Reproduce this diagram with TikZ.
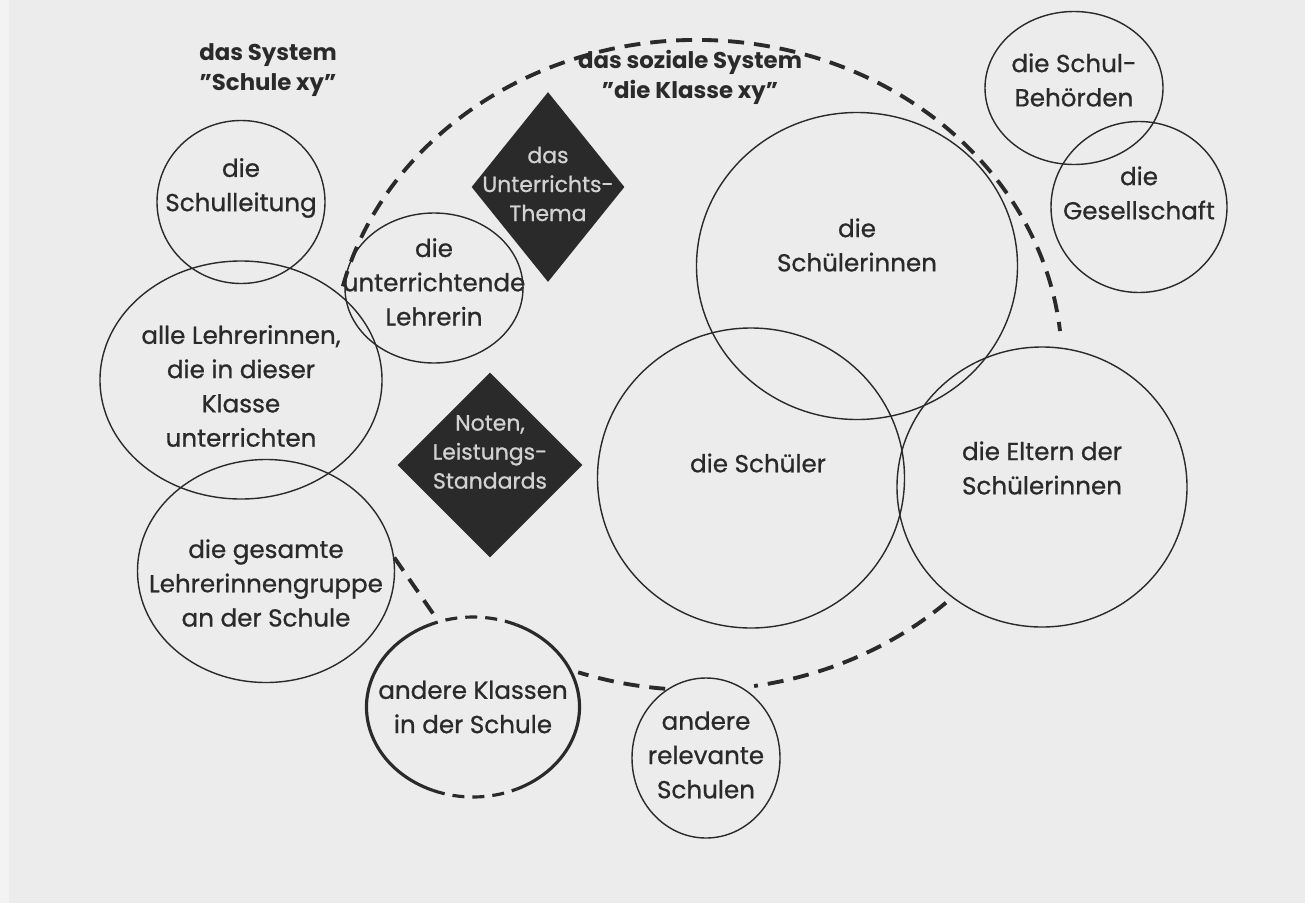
\documentclass[tikz,border=0pt]{standalone}
\usepackage{fontspec}
\setmainfont{Poppins}[UprightFeatures={FakeBold=0.8}]
\usepackage{tikz}
\usetikzlibrary{shapes.geometric,positioning}
\definecolor{papier}{HTML}{ECECEC}
\definecolor{rand}{HTML}{F3F3F3}
\definecolor{tinte}{HTML}{2A2A2A}
\definecolor{raute}{HTML}{2A2A2A}
\definecolor{rautetext}{HTML}{D2D2D2}
\newcommand{\gf}{\char"0022\relax}
\tikzset{
  kreis/.style={ellipse, draw=tinte, line width=0.8pt, inner sep=0pt},
  kreistext/.style={align=center, text=tinte, font=\fontsize{14}{19.5}\selectfont},
  titeltext/.style={align=center, text=tinte, font=\fontsize{13}{17}\selectfont\bfseries},
  rautebox/.style={diamond, fill=raute, inner sep=0pt},
  rautetext/.style={align=center, text=rautetext, font=\fontsize{12.5}{16.5}\selectfont},
  grenze/.style={draw=tinte, line width=2.2pt, dash pattern=on 3.2mm off 2mm},
  dickkreis/.style={draw=tinte, line width=1.8pt},
}

\begin{document}
\begin{tikzpicture}[x=0.2mm, y=0.2mm]
  \useasboundingbox (0,0) rectangle (1305,-903);
  \fill[papier] (0,0) rectangle (1305,-903);
  \fill[rand] (0,0) rectangle (9,-903);

  % das System "Schule xy"
  \node[titeltext] (schultitel) at (268,-70) {das System\\\gf Schule xy\gf};
  \node[kreis, minimum width=33.6mm, minimum height=32.6mm,
        label={[kreistext, yshift=2.8mm]center:die\\Schulleitung}] (leitung) at (241,-202) {};
  \node[kreis, minimum width=56.4mm, minimum height=47.6mm,
        label={[kreistext, yshift=-1.2mm]center:alle Lehrerinnen,\\die in dieser\\Klasse\\unterrichten}] (alle) at (241,-380) {};
  \node[kreis, minimum width=51.4mm, minimum height=44.6mm,
        label={[kreistext, yshift=-2.4mm]center:die gesamte\\Lehrerinnengruppe\\an der Schule}] (gesamt) at (266,-571) {};
  \node[kreis, minimum width=35.6mm, minimum height=30mm,
        label={[kreistext, yshift=1.2mm]center:die\\unterrichtende\\Lehrerin}] (lehrerin) at (434,-288) {};

  % die Klasse
  \node[titeltext] (klassentitel) at (690,-77) {das soziale System\\\gf die Klasse xy\gf};
  \node[rautebox, minimum width=30.6mm, minimum height=38mm,
        label={[rautetext, yshift=0.6mm]center:das\\Unterrichts-\\Thema}] (thema) at (548,-187) {};
  \node[rautebox, minimum width=37mm, minimum height=37mm,
        label={[rautetext, yshift=2.6mm]center:Noten,\\Leistungs-\\Standards}] (noten) at (490,-465) {};
  \node[kreis, minimum width=64.2mm, minimum height=61.4mm,
        label={[kreistext, yshift=4.2mm]center:die\\Schülerinnen}] (schuelerinnen) at (857,-266) {};
  \node[kreis, minimum width=61.4mm, minimum height=60mm,
        label={[kreistext, xshift=1.4mm, yshift=3mm]center:die Schüler}] (schueler) at (751,-478) {};
  \node[kreis, minimum width=58mm, minimum height=56mm,
        label={[kreistext, yshift=3.8mm]center:die Eltern der\\Schülerinnen}] (eltern) at (1042,-487) {};

  % Umfeld
  \node[kreis, minimum width=35.6mm, minimum height=30.6mm,
        label={[kreistext, yshift=1.6mm]center:die Schul-\\Behörden}] (behoerden) at (1074,-88) {};
  \node[kreis, minimum width=35.2mm, minimum height=34.2mm,
        label={[kreistext, yshift=2.8mm]center:die\\Gesellschaft}] (gesellschaft) at (1139,-207) {};
  \node[kreis, draw=none, minimum width=42.6mm, minimum height=36mm,
        label={[kreistext]center:andere Klassen\\in der Schule}] (klassen) at (473,-707) {};
  \node[kreis, minimum width=29.6mm, minimum height=32mm,
        label={[kreistext, yshift=0.6mm]center:andere\\relevante\\Schulen}] (relevant) at (706,-758) {};

  % Grenze des sozialen Systems
  \coordinate (soz) at (697,-365);
  \draw[grenze] (soz) ++(166:73mm and 65mm) arc[start angle=166, end angle=6, x radius=73mm, y radius=65mm];
  \draw[grenze] (soz) ++(-47:73mm and 65mm) arc[start angle=-47, end angle=-81, x radius=73mm, y radius=65mm];
  \draw[grenze] (soz) ++(-95:73mm and 65mm) arc[start angle=-95, end angle=-109, x radius=73mm, y radius=65mm];
  \draw[grenze] (gesamt.6) -- (klassen.112);

  % andere Klassen: Rand teils gestrichelt
  \draw[dickkreis] (klassen.center) ++(114:21.3mm and 18mm) arc[start angle=114, end angle=248, x radius=21.3mm, y radius=18mm];
  \draw[dickkreis] (klassen.center) ++(-66:21.3mm and 18mm) arc[start angle=-66, end angle=66, x radius=21.3mm, y radius=18mm];
  \draw[grenze, line width=1.8pt, dash pattern=on 2.4mm off 1.6mm] (klassen.center) ++(66:21.3mm and 18mm) arc[start angle=66, end angle=114, x radius=21.3mm, y radius=18mm];
  \draw[grenze, line width=1.8pt, dash pattern=on 2.4mm off 1.6mm] (klassen.center) ++(248:21.3mm and 18mm) arc[start angle=248, end angle=294, x radius=21.3mm, y radius=18mm];
\end{tikzpicture}
\end{document}
